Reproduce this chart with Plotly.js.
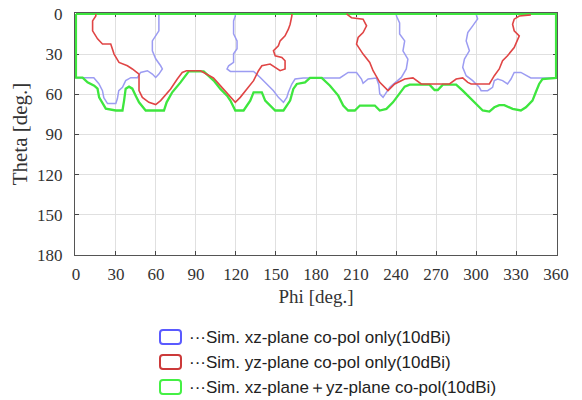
<!DOCTYPE html>
<html>
<head>
<meta charset="utf-8">
<script src="https://cdn.plot.ly/plotly-3.0.1.min.js"></script>
<style>html,body{margin:0;padding:0;background:#fff;}#chart{width:582px;height:400px;}</style>
</head>
<body>
<div id="chart"></div>
<script>
// ---- Data (Phi [deg], Theta [deg]) ----
var xTicks = [0,30,60,90,120,150,180,210,240,270,300,330,360];
var yTicks = [0,30,60,90,120,150,180];

// Green: xz-plane + yz-plane co-pol (closed region boundary)
var greenPhi = [0,0,5,8.7,13.7,16.2,17.4,19.9,22.4,29.9,34.9,36.1,37.3,39.8,42.3,44.8,47.3,52.3,66,68,72.2,78.4,84.6,95.8,103.3,108.3,113.3,115.8,119.5,125.7,130.7,133.2,139.4,141.9,144.4,149.4,155.6,160.6,163,165.6,171.8,175.5,184.3,190.5,196.7,200.4,204.1,209.1,212.9,224.1,227.8,232.8,237.7,242.7,246.5,250.2,265.1,268.9,271.3,275.1,285.1,290,297.5,305,310,313.7,317.4,321.2,327.4,333.6,337.4,342.3,344.8,347.3,349.8,358.5,360,360,0];
var greenTheta = [0,47.6,47.6,51.1,53.6,55.8,62.3,66,70.7,72.1,72.1,64.7,55.8,54.3,55.8,61,66,72.1,72.1,66,58.5,51.1,42.9,42.9,49.8,56,61,64.7,72.1,72.1,64.7,58.5,58.5,64.7,67.2,72.1,72.1,64.7,56,52.3,51.1,47.8,47.8,53.6,61,68.4,72.1,72.1,68.4,68.4,72.1,70.9,66,59.7,54.3,52.8,52.8,56.8,56.8,52.8,52.8,57.3,64.7,72.1,72.9,69.7,68.1,68.1,70.9,72.1,69.7,64.7,58.5,52.3,48.6,47.8,47.8,0,0];

// Blue: xz-plane co-pol only (three segments)
var blue1Phi = [0,5.2,13.4,17.2,19.9,20.9,23.7,29.9,31.1,32.1,34.9,37.3,41.1,46.1,48.5,53.6,57.3,59.8,62.2,64.8,63.5,59.8,57.3,57.3,59.8,62.2,62.2];
var blue1Theta = [47.6,47.6,47.6,52.1,57.3,62.5,66.9,66.9,63.2,57.3,54.8,49.8,47.6,47.6,43.7,42.4,44.9,47.4,44.9,41.1,38.7,33.5,27.5,20.1,16.4,12.6,0];
var blue2Phi = [119.5,119.5,118.2,118.2,120.8,120.8,118.2,118.2,114.5,113.3,115.8,133.2,138.2,143.2,148.1,151.8,155.6,158.1,159.3,161.9,164.3,170.5,197.9,204.1,210.4,214.1,215.3,219.1,225.3,227.1,227.8,230.3,235.3,244,247.7,248.9,245.2,246.5,242.7,242.7,240.3,240.3];
var blue2Theta = [0,1.5,5.2,14.9,20.1,26,29.8,36.2,38.7,41.1,42.9,42.9,47.4,52.3,57.3,62.3,66,62.3,58.5,52.3,48.6,47.8,47.8,43.7,43.7,48.6,51.8,48.6,47.8,52.8,59.7,62.3,54.8,47.4,41.1,33.7,27.5,20.1,14.9,6.7,1.5,0];
var blue3Phi = [300,301.2,297.5,293.8,292.6,295,291.3,290,292.6,297.5,302.5,303.8,308.7,312.4,313.7,316.2,319.9,323.6,326.2,328.6,333.6,337.4,341.1,360];
var blue3Theta = [0,3.7,8.9,13.9,20.1,27.5,33.7,39.9,46.1,49.8,54.8,57.3,57.3,54.8,49.8,48.6,49.8,52.3,48.6,43.7,43.7,46.1,47.8,47.8];

// Red: yz-plane co-pol only (two segments)
var red1Phi = [14.9,14.9,12.5,12.5,16.2,19.9,26.1,28.6,32.3,38.6,42.3,47.3,47.3,49.8,54.7,59.8,63.5,71,76,79.7,82.9,93.4,103.1,108.3,113.3,119.5,123.2,129.4,133.2,136.9,139.4,145.6,153.1,156.8,156.8,154.4,149.4,148.1,151.8,153.1,156.8,159.3,160.6,161.9,161.9];
var red1Theta = [0,1.5,5.2,12.6,18.6,22.5,22.5,30,36.2,38.7,41.1,44.9,57.3,62.3,66,67.7,64.7,56,48.6,43.7,42.4,42.4,47.8,53.6,58.5,66,62.3,54.8,49.8,42.4,38.7,37.4,42.4,41.1,35,32.5,31.2,27.5,23.8,20.1,16.4,11.4,7.7,1.5,0];
var red2Phi = [202.9,206.6,215.3,217.9,215.3,211.6,210.4,215.3,220.3,222.8,227.8,234,239,246.5,252.7,258.9,280.1,285.1,290,293.8,296.3,310,313.7,317.4,319.9,323.6,328.6,331.1,332.4,328.6,327.4,328.6,332.4,341.1];
var red2Theta = [0,2.8,3.9,8.9,13.9,17.6,22.5,30,36.2,42.4,51.1,57.3,52.3,48.6,47.8,52.3,52.3,48.6,47.8,51.1,52.3,52.3,46.1,41.1,35,31.2,25.1,20.1,16.4,12.6,7.7,3.9,1.5,0.7];

var legendLabels = [
  "\u00b7\u00b7\u00b7Sim. xz-plane co-pol only(10dBi)",
  "\u00b7\u00b7\u00b7Sim. yz-plane co-pol only(10dBi)",
  "\u00b7\u00b7\u00b7Sim. xz-plane\uff0byz-plane co-pol(10dBi)"
];
var legendColors = ["#5a5aff", "#cc3a3a", "#44f044"];

function joinSegs(segs){
  var out = [];
  segs.forEach(function(s,i){ if(i>0) out.push(null); out = out.concat(s); });
  return out;
}

var traces = [
  {x: joinSegs([blue1Phi, blue2Phi, blue3Phi]), y: joinSegs([blue1Theta, blue2Theta, blue3Theta]), mode: 'lines', line: {color: '#9c9cf2', width: 1.5}, connectgaps: false, showlegend: false},
  {x: greenPhi, y: greenTheta, mode: 'lines', line: {color: '#3ee63e', width: 2.3}, showlegend: false},
  {x: joinSegs([red1Phi, red2Phi]), y: joinSegs([red1Theta, red2Theta]), mode: 'lines', line: {color: '#e04545', width: 1.6}, connectgaps: false, showlegend: false}
];

// pixel -> paper helpers (plot area 75..557 x, 13..255 y)
var L = 75, R = 557, T = 13, B = 255;
function px(x){ return (x - L) / (R - L); }
function py(y){ return (B - y) / (B - T); }

var shapes = [], annotations = [];
var rowY = [337, 362, 387];
rowY.forEach(function(cy, i){
  var x0 = 160, x1 = 181, y0 = cy - 7, y1 = cy + 7, r = 3;
  var p = 'M' + px(x0 + r) + ',' + py(y0) +
          ' L' + px(x1 - r) + ',' + py(y0) +
          ' Q' + px(x1) + ',' + py(y0) + ' ' + px(x1) + ',' + py(y0 + r) +
          ' L' + px(x1) + ',' + py(y1 - r) +
          ' Q' + px(x1) + ',' + py(y1) + ' ' + px(x1 - r) + ',' + py(y1) +
          ' L' + px(x0 + r) + ',' + py(y1) +
          ' Q' + px(x0) + ',' + py(y1) + ' ' + px(x0) + ',' + py(y1 - r) +
          ' L' + px(x0) + ',' + py(y0 + r) +
          ' Q' + px(x0) + ',' + py(y0) + ' ' + px(x0 + r) + ',' + py(y0) + ' Z';
  shapes.push({type: 'path', xref: 'paper', yref: 'paper', path: p, line: {color: legendColors[i], width: 2}, fillcolor: 'rgba(0,0,0,0)'});
  annotations.push({xref: 'paper', yref: 'paper', x: px(187), y: py(cy), xanchor: 'left', yanchor: 'middle', showarrow: false,
    text: legendLabels[i], font: {family: 'Liberation Sans, Arial, sans-serif', size: 17, color: '#222'}});
});

var serif = 'Liberation Serif, Times New Roman, serif';
var layout = {
  width: 582, height: 400,
  margin: {l: 75, r: 25, t: 13, b: 145},
  paper_bgcolor: '#fff', plot_bgcolor: '#fff',
  showlegend: false,
  xaxis: {
    range: [-0.7, 360.7], tickvals: xTicks, ticktext: xTicks.map(String),
    showline: true, linecolor: '#555', linewidth: 1, mirror: 'ticks', layer: 'below traces',
    ticks: 'inside', ticklen: 4, tickcolor: '#444',
    showgrid: true, gridcolor: '#e0e0e0', zeroline: false,
    tickfont: {family: serif, size: 17, color: '#333'}, ticklabelstandoff: 4,
    title: {text: 'Phi [deg.]', font: {family: serif, size: 19, color: '#333'}, standoff: 6},
    automargin: false, fixedrange: true
  },
  yaxis: {
    range: [180, -0.7], tickvals: yTicks, ticktext: yTicks.map(String),
    showline: true, linecolor: '#555', linewidth: 1, mirror: 'ticks', layer: 'below traces',
    ticks: 'inside', ticklen: 4, tickcolor: '#444',
    showgrid: true, gridcolor: '#e0e0e0', zeroline: false,
    tickfont: {family: serif, size: 17, color: '#333'}, ticklabelstandoff: 8,
    title: {text: 'Theta [deg.]', font: {family: serif, size: 21, color: '#333'}, standoff: 3},
    automargin: false, fixedrange: true
  },
  shapes: shapes,
  annotations: annotations
};

Plotly.newPlot('chart', traces, layout, {displayModeBar: false, staticPlot: true});
</script>
</body>
</html>
